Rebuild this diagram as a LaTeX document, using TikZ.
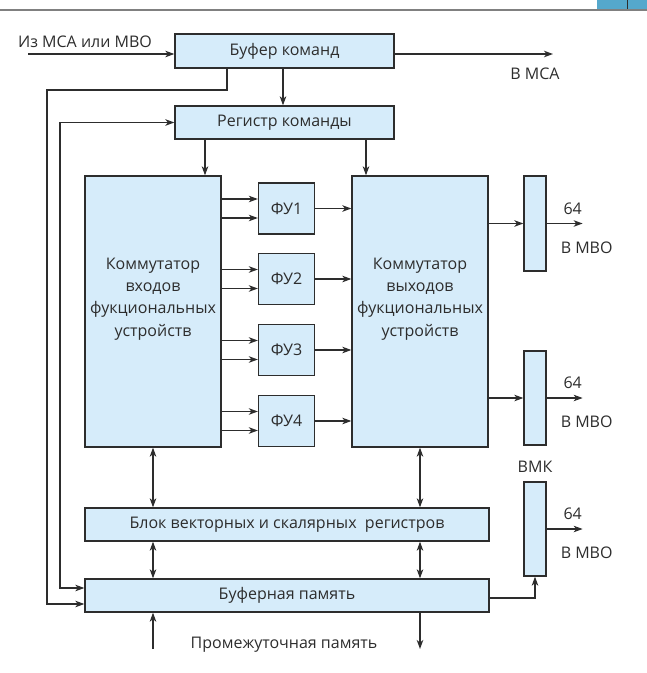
\documentclass[tikz,border=0pt]{standalone}
\usepackage{fontspec}
\setmainfont{Open Sans}
\usetikzlibrary{arrows.meta}
\definecolor{boxfill}{RGB}{214,236,250}
\definecolor{edge}{RGB}{45,45,45}
\definecolor{tabblue}{RGB}{85,168,204}

\begin{document}
\begin{tikzpicture}[x=1pt,y=-1pt,
  >={Stealth[length=9pt,width=6.5pt,inset=2.5pt]},
  every node/.style={font=\fontsize{16}{22.3}\selectfont,text=edge},
  box/.style={draw=edge,fill=boxfill,line width=1.3pt,inner sep=0pt},
  arr/.style={->,draw=edge,line width=1.2pt},
  dbl/.style={<->,draw=edge,line width=1.2pt}]
\useasboundingbox (0,0) rectangle (647,673);
% page header
\fill[tabblue] (597,0) rectangle (647,9.3);
\draw[edge,line width=1pt] (627,0) -- (627,9.3);
\draw[gray,line width=1.5pt] (0,10) -- (647,10);

% blocks
\node[box,minimum width=219pt,minimum height=34pt] (bufcmd) at (284.5,51) {Буфер команд};
\node[box,minimum width=219pt,minimum height=33pt] (regcmd) at (284.5,122.5) {Регистр команды};
\node[box,minimum width=136pt,minimum height=271pt] (komin) at (153,311.5) {};
\node[align=center] (kominlbl) at (153,299) {Коммутатор\\входов\\фукциональных\\устройств};
\node[box,minimum width=136pt,minimum height=271pt] (komout) at (420,311.5) {};
\node[align=center] (komoutlbl) at (420,299) {Коммутатор\\выходов\\фукциональных\\устройств};
\node[box,minimum width=404pt,minimum height=33pt] (blok) at (287,524.5) {Блок векторных и скалярных\ \ регистров};
\node[box,minimum width=404pt,minimum height=33pt] (bufmem) at (287,595.5) {Буферная память};
\node[box,minimum width=22pt,minimum height=95pt] (reg1) at (535,223.5) {};
\node[box,minimum width=22pt,minimum height=94pt] (reg2) at (535,398) {};
\node[box,minimum width=22pt,minimum height=94pt] (vmk) at (535,529) {};
\node (vmklbl) at (535,467) {ВМК};

% functional units
\foreach \i/\y in {1/208.5,2/279,3/350,4/421} {
  \node[box,minimum width=56pt,minimum height=51pt] (fu\i) at (286.5,\y) {ФУ\i};
  \pgfmathsetmacro\ya{\y-9.5}
  \pgfmathsetmacro\yb{\y+9.5}
  \draw[arr] (komin.east |- 0,\ya) -- (fu\i.west |- 0,\ya);
  \draw[arr] (komin.east |- 0,\yb) -- (fu\i.west |- 0,\yb);
  \draw[arr] (fu\i.east) -- (fu\i.east -| komout.west);
}

% outputs to MBO
\draw[arr] (komout.east |- reg1) -- (reg1.west);
\draw[arr] (komout.east |- reg2) -- (reg2.west);
\foreach \r in {reg1,reg2,vmk} {
  \draw[arr] (\r.east) -- ++(36,0) coordinate (\r o);
  \node at ([xshift=-10pt,yshift=15pt]\r o) {64};
  \node at ([xshift=4pt,yshift=-24pt]\r o) {В МВО};
}

% command path
\coordinate (inA) at (28,54);
\node (srclbl) at (85,42) {Из МСА или МВО};
\draw[arr] (inA) -- (inA -| bufcmd.west);
\draw[arr] (inA -| bufcmd.east) -- (553,54) coordinate (outA);
\node (dstlbl) at (535,74) {В МСА};
\draw[arr] (bufcmd.south -| 283,0) -- (regcmd.north -| 283,0);
\draw[arr] (bufcmd.south -| 227,0) -- (227,90) -- (47,90) |- (bufmem.west |- 0,604);
\draw[dbl] (regcmd.west) -- (60,122.5) |- (bufmem.west |- 0,588);
\draw[arr] (regcmd.south -| 205,0) -- (komin.north -| 205,0);
\draw[arr] (regcmd.south -| 366,0) -- (komout.north -| 366,0);

% register and memory links
\draw[dbl] (komin.south) -- (komin.south |- blok.north);
\draw[dbl] (komout.south) -- (komout.south |- blok.north);
\draw[dbl] (blok.south -| komin.south) -- (bufmem.north -| komin.south);
\draw[dbl] (blok.south -| komout.south) -- (bufmem.north -| komout.south);
\draw[arr] (bufmem.east |- 0,598) -| (vmk.south);

% intermediate memory
\coordinate (memin) at (153,649);
\coordinate (memout) at (420,649);
\draw[arr] (memin) -- (memin |- bufmem.south);
\draw[arr] (memout |- bufmem.south) -- (memout);
\node (memlbl) at (284,645) {Промежуточная память};
\end{tikzpicture}
\end{document}
